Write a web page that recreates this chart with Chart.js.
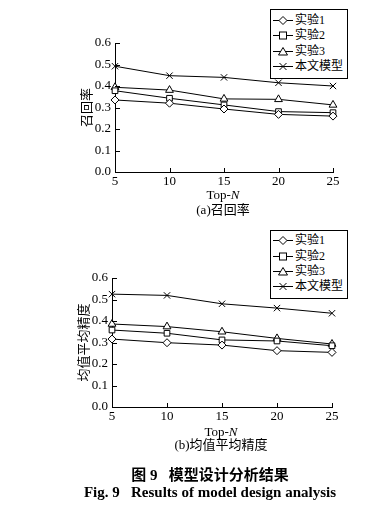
<!DOCTYPE html>
<html>
<head>
<meta charset="utf-8">
<script src="https://cdn.jsdelivr.net/npm/chart.js@4.4.1/dist/chart.umd.min.js"></script>
<style>
  html, body { margin:0; padding:0; background:#fff; }
  body { width:375px; height:508px; position:relative; overflow:hidden; font-family:'Liberation Serif','Noto Sans CJK SC',serif; color:#000; }
  .cv { position:absolute; left:0; width:375px; height:232px; }
  .txt { position:absolute; left:0; width:375px; text-align:center; white-space:nowrap; }
  .legend { position:absolute; left:270px; width:76px; border:1px solid #000; background:#fff; box-sizing:content-box; }
  .row { position:absolute; left:2px; height:15px; display:flex; align-items:center; font-size:12px; white-space:nowrap; line-height:15px; }
  .row svg { margin-right:2px; flex:none; }
</style>
</head>
<body>
<canvas id="c1" class="cv" width="375" height="232" style="top:0px"></canvas>
<canvas id="c2" class="cv" width="375" height="232" style="top:235px"></canvas>

<div class="txt" style="top:187px;font-size:13px;left:111px;width:224px;">Top-<i>N</i></div>
<div class="txt" style="top:199px;font-size:13px;left:111px;width:224px;">(a)召回率</div>
<div class="txt" style="top:424px;font-size:13px;left:109px;width:224px;">Top-<i>N</i></div>
<div class="txt" style="top:434px;font-size:13px;left:109px;width:224px;">(b)均值平均精度</div>
<div class="txt" style="top:463px;font-size:15px;font-weight:bold;left:0;width:420px;">图 9&nbsp;&nbsp;&nbsp;模型设计分析结果</div>
<div class="txt" style="top:484px;font-size:15px;font-weight:bold;left:0;width:420px;">Fig. 9&nbsp;&nbsp;&nbsp;Results of model design analysis</div>

<div id="lg1" class="legend" style="top:9px;height:68px;"></div>
<div id="lg2" class="legend" style="top:230px;height:67px;"></div>

<script>
const categories = ['5','10','15','20','25'];
const seriesNames = ['实验1','实验2','实验3','本文模型'];
const yTicks = [0,0.1,0.2,0.3,0.4,0.5,0.6];

// (a) 召回率
const recallExp1  = [0.335,0.320,0.293,0.268,0.260];
const recallExp2  = [0.378,0.343,0.312,0.281,0.276];
const recallExp3  = [0.394,0.381,0.340,0.338,0.312];
const recallModel = [0.492,0.448,0.440,0.415,0.400];

// (b) 均值平均精度
const mapExp1  = [0.316,0.299,0.288,0.262,0.254];
const mapExp2  = [0.358,0.343,0.312,0.307,0.285];
const mapExp3  = [0.386,0.374,0.350,0.319,0.293];
const mapModel = [0.525,0.519,0.480,0.460,0.436];

const markers = ['rectRot','rect','triangle','crossRot'];
const radii = [4,4,4.5,4.5];

const inwardTicks = {
  id:'inwardTicks',
  afterDraw(chart){
    const ctx = chart.ctx;
    const x = chart.scales.x, y = chart.scales.y;
    ctx.save();
    ctx.strokeStyle = '#000'; ctx.lineWidth = 1;
    ctx.beginPath();
    for (let i=1;i<x.ticks.length;i++){
      const px = Math.round(x.getPixelForTick(i))+0.5;
      ctx.moveTo(px, y.bottom); ctx.lineTo(px, y.bottom-4);
    }
    for (let i=1;i<y.ticks.length;i++){
      const py = Math.round(y.getPixelForTick(i))+0.5;
      ctx.moveTo(x.left, py); ctx.lineTo(x.left+5, py);
    }
    ctx.stroke();
    ctx.restore();
  }
};

function makeChart(id, data, yTitle, leftW, rightPad){
  const sets = [data[0],data[1],data[2],data[3]].map((d,i)=>({
    label: seriesNames[i],
    data: d,
    borderColor:'#000',
    borderWidth:1,
    pointStyle: markers[i],
    pointRadius: radii[i],
    pointBackgroundColor:'#fff',
    pointBorderColor:'#000',
    pointBorderWidth:1,
    tension:0,
    fill:false
  }));
  return new Chart(document.getElementById(id), {
    type:'line',
    data:{ labels: categories, datasets: sets },
    options:{
      responsive:false,
      animation:false,
      devicePixelRatio:1,
      layout:{ padding:{ left:0, right:rightPad, top:43, bottom:0 } },
      plugins:{ legend:{display:false}, tooltip:{enabled:false} },
      scales:{
        x:{
          type:'category',
          offset:false,
          grid:{ display:false, drawTicks:false },
          border:{ display:true, color:'#000', width:1 },
          ticks:{ color:'#000', font:{ family:'Liberation Serif', size:13 }, padding:2, maxRotation:0, autoSkip:false },
          afterFit(s){ s.height = 60; }
        },
        y:{
          min:0, max:0.6,
          afterBuildTicks(s){ s.ticks = yTicks.map(v=>({value:v})); },
          grid:{ display:false, drawTicks:false },
          border:{ display:true, color:'#000', width:1 },
          ticks:{ color:'#000', font:{ family:'Liberation Serif', size:13 }, padding:4,
                  callback:(v)=>Number(v).toFixed(1) },
          title:{ display:true, text:yTitle, color:'#000',
                  font:{ family:"'Liberation Serif','Noto Sans CJK SC'", size:13 },
                  padding:{ top: leftW-35, bottom:0 } },
          afterFit(s){ s.width = leftW; }
        }
      }
    },
    plugins:[inwardTicks]
  });
}

makeChart('c1', [recallExp1,recallExp2,recallExp3,recallModel], '召回率', 115, 42);
makeChart('c2', [mapExp1,mapExp2,mapExp3,mapModel], '均值平均精度', 112, 43);

function markerSvg(i){
  const cx=10, cy=7.5;
  let m='';
  if (i===0) m=`<polygon points="${cx},${cy-4} ${cx+4},${cy} ${cx},${cy+4} ${cx-4},${cy}" fill="#fff" stroke="#000"/>`;
  if (i===1) m=`<rect x="${cx-3.5}" y="${cy-3.5}" width="7" height="7" fill="#fff" stroke="#000"/>`;
  if (i===2) m=`<polygon points="${cx},${cy-4} ${cx+4.5},${cy+3.5} ${cx-4.5},${cy+3.5}" fill="#fff" stroke="#000"/>`;
  if (i===3) m=`<path d="M${cx-3.5} ${cy-3.5}L${cx+3.5} ${cy+3.5}M${cx+3.5} ${cy-3.5}L${cx-3.5} ${cy+3.5}" stroke="#000"/>`;
  return `<svg width="20" height="15"><line x1="0" y1="7.5" x2="20" y2="7.5" stroke="#000"/>${m}</svg>`;
}
function buildLegend(id, tops){
  const el = document.getElementById(id);
  seriesNames.forEach((n,i)=>{
    const r = document.createElement('div');
    r.className='row';
    r.style.top = tops[i]+'px';
    r.innerHTML = markerSvg(i)+'<span>'+n+'</span>';
    el.appendChild(r);
  });
}
buildLegend('lg1',[3,18,34,49]);
buildLegend('lg2',[2,18,33,48]);
</script>
</body>
</html>
